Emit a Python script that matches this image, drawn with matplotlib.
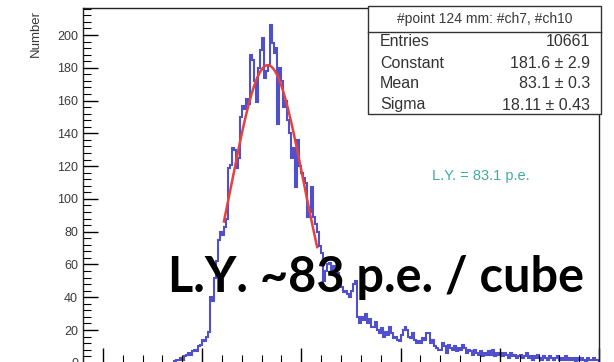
import numpy as np
import matplotlib
matplotlib.use("Agg")
import matplotlib.pyplot as plt
from matplotlib.patches import Rectangle
from matplotlib.ticker import MultipleLocator

W, H = 614, 362

# light-yield spectrum, 1 p.e. bins starting at 36
first_bin = 36
counts = [
    1, 2, 2, 3, 2, 4, 5, 6, 5, 7, 8, 7, 10, 11, 14, 13, 16, 19,
    40, 38, 52, 62, 75, 80, 78, 83, 88, 119, 121, 131, 130, 119, 125, 150,
    157, 155, 161, 158, 188, 185, 172, 159, 180, 191, 198, 174, 178, 182,
    206, 195, 189, 192, 146, 180, 172, 156, 160, 148, 140, 125, 131, 107,
    136, 120, 116, 113, 110, 89, 92, 107, 89, 85, 80, 71, 67, 50,
    56, 60, 61, 55, 59, 57, 55, 50, 46, 43, 44, 42, 40, 44,
    48, 50, 28, 24, 28, 26, 30, 24, 27, 22, 22, 25, 20, 18,
    21, 16, 19, 17, 22, 18, 15, 16, 14, 13, 17, 20, 22, 20,
    16, 15, 18, 14, 12, 13, 12, 15, 14, 18, 18, 12, 14, 10,
    9, 8, 8, 12, 10, 6, 11, 9, 8, 10, 7, 9, 8, 11,
    9, 6, 8, 7, 5, 8, 6, 5, 7, 4, 6, 5, 7, 5,
    8, 4, 6, 5, 6, 4, 6, 5, 3, 6, 4, 5, 3, 4,
    5, 3, 4, 6, 3, 4, 2, 4, 3, 5, 3, 2, 4, 3,
    2, 4, 3, 2, 3, 4, 2, 3, 2, 4, 2, 3, 2, 3,
    1, 3, 2, 3, 2, 1, 3, 2, 2, 3, 2, 2,
]

# gaussian fit result
fit_const = 181.6
fit_mean = 83.1
fit_sigma = 18.11
fit_range = (61, 108)

stats_title = "#point 124 mm: #ch7, #ch10"
stats_names = ["Entries", "Constant", "Mean", "Sigma"]
stats_values = ["10661", "181.6 ± 2.9", "83.1 ± 0.3", "18.11 ± 0.43"]

plt.rcParams["font.family"] = ["Liberation Sans", "DejaVu Sans"]


def fx(px):
    return px / W


def fy(py):
    return 1 - py / H


fig = plt.figure(figsize=(W / 100, H / 100), dpi=100)
ax = fig.add_axes([fx(83), fy(362.8), (599 - 83) / W, (362.8 - 8) / H])

edges = np.arange(first_bin, first_bin + len(counts) + 1)
ax.stairs(counts, edges, color="#5050cc", lw=1.5)

xf = np.linspace(fit_range[0], fit_range[1], 200)
yf = fit_const * np.exp(-0.5 * ((xf - fit_mean) / fit_sigma) ** 2)
ax.plot(xf, yf, color="#e8413c", lw=1.8)

ax.set_xlim(-10, 250)
ax.set_ylim(0, 216.5)
ax.xaxis.set_major_locator(MultipleLocator(50))
ax.xaxis.set_minor_locator(MultipleLocator(10))
ax.yaxis.set_major_locator(MultipleLocator(20))
ax.yaxis.set_minor_locator(MultipleLocator(4))
ax.tick_params(which="both", direction="in", top=False, right=False,
               labelsize=9, labelcolor="#3a3a3a", pad=3.6)
# the x labels sit below the visible area
ax.tick_params(axis="x", labelbottom=False)
ax.tick_params(which="major", length=11, width=1)
ax.tick_params(which="minor", length=5.5, width=0.8)
for s in ax.spines.values():
    s.set_color("#222222")
    s.set_linewidth(1)

fig.text(fx(36), fy(10), "Number", rotation=90, ha="center", va="top",
         fontsize=9.5, color="#3a3a3a")

# stats box
box_l, box_r, box_t, box_b, head_b = 368, 601, 6, 114, 32
fig.add_artist(Rectangle((fx(box_l), fy(box_b)), (box_r - box_l) / W,
                         (box_b - box_t) / H, transform=fig.transFigure,
                         facecolor="white", edgecolor="#333333", lw=1))
fig.add_artist(plt.Line2D([fx(box_l), fx(box_r)], [fy(head_b), fy(head_b)],
                          transform=fig.transFigure, color="#333333", lw=1))
fig.text(fx((box_l + box_r) / 2), fy((box_t + head_b) / 2), stats_title,
         ha="center", va="center", fontsize=10, color="#3a3a3a")
for i, (name, val) in enumerate(zip(stats_names, stats_values)):
    yy = fy(42 + i * 21)
    fig.text(fx(380), yy, name, ha="left", va="center", fontsize=11.5,
             color="#333333")
    fig.text(fx(590), yy, val, ha="right", va="center", fontsize=11.5,
             color="#333333")

fig.text(fx(432), fy(180), "L.Y. = 83.1 p.e.", ha="left", va="baseline",
         fontsize=10.5, color="#3fa9a9")

fig.text(fx(168), fy(292), "L.Y. ~83 p.e. / cube", ha="left",
         va="baseline", fontsize=35, fontweight="bold", family="Lato",
         color="black")

fig.savefig("out.png", dpi=100)
